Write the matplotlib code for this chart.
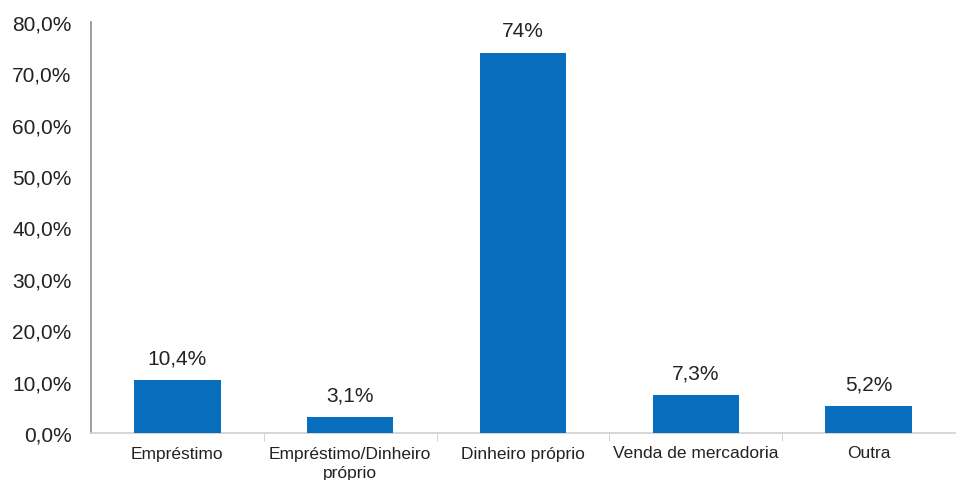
import matplotlib
matplotlib.use("Agg")
import matplotlib.pyplot as plt
import numpy as np

categories = ["Empréstimo", "Empréstimo/Dinheiro\npróprio", "Dinheiro próprio",
              "Venda de mercadoria", "Outra"]
values = [10.4, 3.1, 74.0, 7.3, 5.2]
value_labels = ["10,4%", "3,1%", "74%", "7,3%", "5,2%"]
yticks = [0, 10, 20, 30, 40, 50, 60, 70, 80]
ytick_labels = ["0,0%", "10,0%", "20,0%", "30,0%", "40,0%", "50,0%", "60,0%", "70,0%", "80,0%"]

plt.rcParams['font.family'] = ['Liberation Sans', 'DejaVu Sans']

fig = plt.figure(figsize=(9.62, 4.81), dpi=100)
ax = fig.add_axes([91/962, 1 - 434/481, (955 - 91)/962, (434 - 23)/481])

x = np.arange(len(categories))
ax.bar(x, values, width=0.5, color='#0A6EBF', zorder=3)
for xi, v, lab in zip(x, values, value_labels):
    ax.annotate(lab, (xi, v), xytext=(0, 9), textcoords='offset points',
                ha='center', va='bottom', fontsize=15, color='#222222')

ax.set_xlim(-0.5, len(categories) - 0.5)
ax.set_ylim(0, 80)
ax.set_yticks(yticks)
ax.set_yticklabels(ytick_labels, fontsize=15, color='#222222')
ax.tick_params(axis='y', length=0, pad=14)

ax.set_xticks(x)
ax.set_xticklabels(categories, fontsize=12.5, color='#222222', linespacing=1.35)
ax.tick_params(axis='x', which='major', length=0, pad=9)
ax.set_xticks(np.arange(0.5, len(categories) - 0.5, 1), minor=True)
ax.tick_params(axis='x', which='minor', length=6, color='#cccccc', direction='out')

for s in ['top', 'right']:
    ax.spines[s].set_visible(False)
ax.spines['left'].set_color('#8c8c8c')
ax.spines['left'].set_linewidth(1.2)
ax.spines['bottom'].set_color('#cfcfcf')
ax.spines['bottom'].set_linewidth(1.2)

fig.savefig("out.png", dpi=100)
